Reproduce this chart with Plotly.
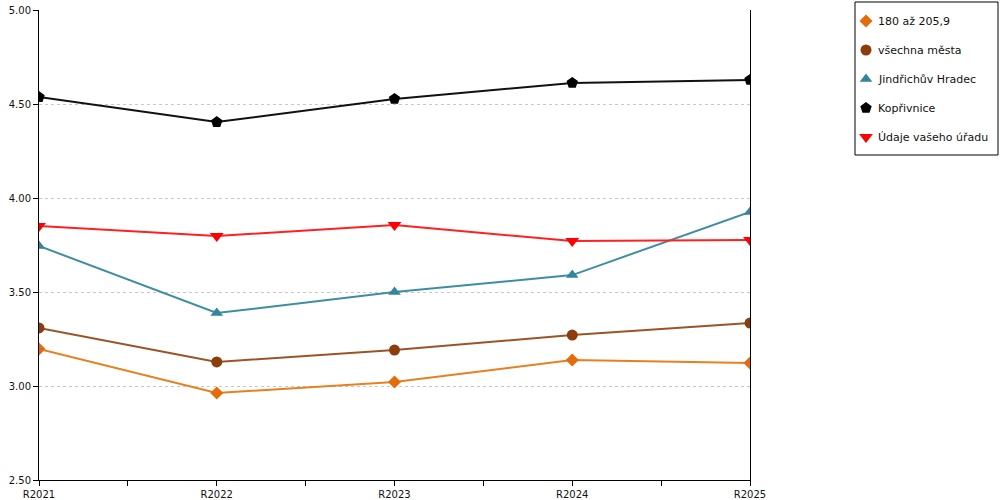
import plotly.graph_objects as go

roky = ["R2021", "R2022", "R2023", "R2024", "R2025"]

nazvy = ["180 až 205,9", "všechna města", "Jindřichův Hradec", "Kopřivnice", "Údaje vašeho úřadu"]
skupina_180 = [3.197, 2.963, 3.021, 3.138, 3.122]
vsechna_mesta = [3.309, 3.128, 3.191, 3.271, 3.335]
jindrichuv_hradec = [3.745, 3.388, 3.500, 3.590, 3.926]
koprivnice = [4.537, 4.404, 4.527, 4.612, 4.628]
vas_urad = [3.851, 3.798, 3.856, 3.771, 3.777]

y_ticks = [2.5, 3.0, 3.5, 4.0, 4.5, 5.0]

serie = [skupina_180, vsechna_mesta, jindrichuv_hradec, koprivnice, vas_urad]
barvy = ["#E46C0A", "#8B3E0B", "#31859C", "#000000", "#FF0000"]
barvy_car = ["#E8801F", "#9C5424", "#3E8EA3", "#111111", "#FF2020"]
znacky = ["diamond", "circle", "triangle-up", "pentagon", "triangle-down"]
velikosti = [10, 11, 11, 12, 12]

x = list(range(len(roky)))

# rozmery v pixelech (okno 1000x500)
W, H = 1000, 500
ML, MR, MT, MB = 39, 2, 2, 20
pw, ph = W - ML - MR, H - MT - MB
plot_right, plot_top = 750, 10
leg_l, leg_r, leg_t, leg_b = 855, 998, 2, 155

fig = go.Figure()
for i, hodnoty in enumerate(serie):
    fig.add_trace(go.Scatter(
        x=x, y=hodnoty, mode="lines", showlegend=False, hoverinfo="skip",
        line=dict(color=barvy_car[i], width=2),
    ))
for i, hodnoty in enumerate(serie):
    fig.add_trace(go.Scatter(
        x=x, y=hodnoty, name=nazvy[i], mode="markers", showlegend=False,
        marker=dict(symbol=znacky[i], size=velikosti[i], color=barvy[i]),
    ))

# vlastni legenda (jen symbol + text)
leg_y = [19 + 29 * i for i in range(len(nazvy))]
for i, nazev in enumerate(nazvy):
    fig.add_trace(go.Scatter(
        x=[11], y=[leg_y[i]], mode="markers", xaxis="x2", yaxis="y2",
        showlegend=False, hoverinfo="skip",
        marker=dict(symbol=znacky[i], size=velikosti[i], color=barvy[i]),
    ))
    fig.add_annotation(
        x=21, y=leg_y[i], xref="x2", yref="y2", text=nazev,
        showarrow=False, xanchor="left", yanchor="middle",
        font=dict(size=11, color="#111"),
    )
fig.add_shape(type="rect", xref="x2 domain", yref="y2 domain",
              x0=0, x1=1, y0=0, y1=1, line=dict(color="black", width=1))

fig.update_layout(
    width=W, height=H,
    margin=dict(l=ML, r=MR, t=MT, b=MB, autoexpand=False),
    plot_bgcolor="white", paper_bgcolor="white",
    font=dict(family="DejaVu Sans", size=10, color="#111"),
    showlegend=False,
    xaxis=dict(
        domain=[0, (plot_right - ML) / pw],
        range=[0, len(roky) - 1], automargin=False,
        tickvals=x, ticktext=roky,
        showgrid=False, zeroline=False,
        showline=True, linecolor="black", linewidth=1,
        ticks="outside", ticklen=5, tickcolor="black",
        minor=dict(dtick=0.5, tick0=0, ticks="outside", ticklen=5, tickcolor="black"),
    ),
    yaxis=dict(
        domain=[0, (H - MB - plot_top) / ph],
        range=[2.5, 5.0], automargin=False,
        tickvals=y_ticks, tickformat=".2f",
        showgrid=True, gridcolor="#c8c8c8", griddash="dot", gridwidth=1,
        zeroline=False,
        showline=True, linecolor="black", linewidth=1, mirror=True,
        ticks="outside", ticklen=5, tickcolor="black",
    ),
    xaxis2=dict(
        domain=[(leg_l - ML) / pw, (leg_r - ML) / pw],
        range=[0, leg_r - leg_l], visible=False, fixedrange=True,
    ),
    yaxis2=dict(
        domain=[(H - MB - leg_b) / ph, (H - MB - leg_t) / ph],
        range=[leg_b - leg_t, 0], visible=False, fixedrange=True,
    ),
)

fig.write_html("out.html", config={"displayModeBar": False},
               post_script="document.body.style.margin='0px';")
